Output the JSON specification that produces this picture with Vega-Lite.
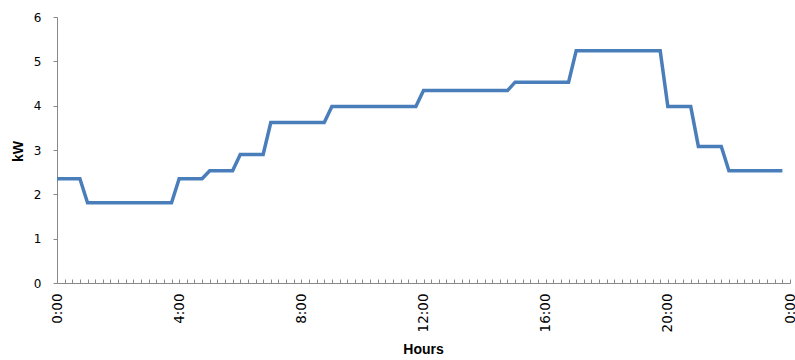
{
  "$schema": "https://vega.github.io/schema/vega-lite/v6.json",
  "width": 733,
  "height": 266,
  "autosize": {"type": "none"},
  "padding": {"left": 57, "top": 17, "right": 5, "bottom": 77},
  "background": "white",
  "config": {"view": {"stroke": null}},
  "data": {"values": [
    {"t": 0, "kW": 2.35}, {"t": 0.25, "kW": 2.35}, {"t": 0.5, "kW": 2.35}, {"t": 0.75, "kW": 2.35},
    {"t": 1, "kW": 1.81}, {"t": 1.25, "kW": 1.81}, {"t": 1.5, "kW": 1.81}, {"t": 1.75, "kW": 1.81},
    {"t": 2, "kW": 1.81}, {"t": 2.25, "kW": 1.81}, {"t": 2.5, "kW": 1.81}, {"t": 2.75, "kW": 1.81},
    {"t": 3, "kW": 1.81}, {"t": 3.25, "kW": 1.81}, {"t": 3.5, "kW": 1.81}, {"t": 3.75, "kW": 1.81},
    {"t": 4, "kW": 2.35}, {"t": 4.25, "kW": 2.35}, {"t": 4.5, "kW": 2.35}, {"t": 4.75, "kW": 2.35},
    {"t": 5, "kW": 2.53}, {"t": 5.25, "kW": 2.53}, {"t": 5.5, "kW": 2.53}, {"t": 5.75, "kW": 2.53},
    {"t": 6, "kW": 2.9}, {"t": 6.25, "kW": 2.9}, {"t": 6.5, "kW": 2.9}, {"t": 6.75, "kW": 2.9},
    {"t": 7, "kW": 3.62}, {"t": 7.25, "kW": 3.62}, {"t": 7.5, "kW": 3.62}, {"t": 7.75, "kW": 3.62},
    {"t": 8, "kW": 3.62}, {"t": 8.25, "kW": 3.62}, {"t": 8.5, "kW": 3.62}, {"t": 8.75, "kW": 3.62},
    {"t": 9, "kW": 3.98}, {"t": 9.25, "kW": 3.98}, {"t": 9.5, "kW": 3.98}, {"t": 9.75, "kW": 3.98},
    {"t": 10, "kW": 3.98}, {"t": 10.25, "kW": 3.98}, {"t": 10.5, "kW": 3.98}, {"t": 10.75, "kW": 3.98},
    {"t": 11, "kW": 3.98}, {"t": 11.25, "kW": 3.98}, {"t": 11.5, "kW": 3.98}, {"t": 11.75, "kW": 3.98},
    {"t": 12, "kW": 4.34}, {"t": 12.25, "kW": 4.34}, {"t": 12.5, "kW": 4.34}, {"t": 12.75, "kW": 4.34},
    {"t": 13, "kW": 4.34}, {"t": 13.25, "kW": 4.34}, {"t": 13.5, "kW": 4.34}, {"t": 13.75, "kW": 4.34},
    {"t": 14, "kW": 4.34}, {"t": 14.25, "kW": 4.34}, {"t": 14.5, "kW": 4.34}, {"t": 14.75, "kW": 4.34},
    {"t": 15, "kW": 4.53}, {"t": 15.25, "kW": 4.53}, {"t": 15.5, "kW": 4.53}, {"t": 15.75, "kW": 4.53},
    {"t": 16, "kW": 4.53}, {"t": 16.25, "kW": 4.53}, {"t": 16.5, "kW": 4.53}, {"t": 16.75, "kW": 4.53},
    {"t": 17, "kW": 5.24}, {"t": 17.25, "kW": 5.24}, {"t": 17.5, "kW": 5.24}, {"t": 17.75, "kW": 5.24},
    {"t": 18, "kW": 5.24}, {"t": 18.25, "kW": 5.24}, {"t": 18.5, "kW": 5.24}, {"t": 18.75, "kW": 5.24},
    {"t": 19, "kW": 5.24}, {"t": 19.25, "kW": 5.24}, {"t": 19.5, "kW": 5.24}, {"t": 19.75, "kW": 5.24},
    {"t": 20, "kW": 3.98}, {"t": 20.25, "kW": 3.98}, {"t": 20.5, "kW": 3.98}, {"t": 20.75, "kW": 3.98},
    {"t": 21, "kW": 3.08}, {"t": 21.25, "kW": 3.08}, {"t": 21.5, "kW": 3.08}, {"t": 21.75, "kW": 3.08},
    {"t": 22, "kW": 2.53}, {"t": 22.25, "kW": 2.53}, {"t": 22.5, "kW": 2.53}, {"t": 22.75, "kW": 2.53},
    {"t": 23, "kW": 2.53}, {"t": 23.25, "kW": 2.53}, {"t": 23.5, "kW": 2.53}, {"t": 23.75, "kW": 2.53}
  ]},
  "mark": {"type": "line", "color": "#4A7EBB", "strokeWidth": 3.5},
  "encoding": {
    "x": {
      "field": "t",
      "type": "quantitative",
      "scale": {"domain": [0, 24], "nice": false, "zero": false},
      "axis": {
        "title": "Hours",
        "titleFont": "Liberation Sans",
        "titleFontSize": 14,
        "titleFontWeight": "bold",
        "titleColor": "black",
        "titleX": 366,
        "titleY": 66,
        "titleAlign": "center",
        "titleBaseline": "middle",
        "grid": false,
        "domainColor": "#898989",
        "domainWidth": 1,
        "tickColor": "#898989",
        "tickWidth": 1,
        "tickSize": -4,
        "values": [0,0.25,0.5,0.75,1,1.25,1.5,1.75,2,2.25,2.5,2.75,3,3.25,3.5,3.75,4,4.25,4.5,4.75,5,5.25,5.5,5.75,6,6.25,6.5,6.75,7,7.25,7.5,7.75,8,8.25,8.5,8.75,9,9.25,9.5,9.75,10,10.25,10.5,10.75,11,11.25,11.5,11.75,12,12.25,12.5,12.75,13,13.25,13.5,13.75,14,14.25,14.5,14.75,15,15.25,15.5,15.75,16,16.25,16.5,16.75,17,17.25,17.5,17.75,18,18.25,18.5,18.75,19,19.25,19.5,19.75,20,20.25,20.5,20.75,21,21.25,21.5,21.75,22,22.25,22.5,22.75,23,23.25,23.5,23.75,24],
        "labelExpr": "datum.value % 4 === 0 ? (datum.value % 24) + ':00' : ''",
        "labelOverlap": false,
        "labelBound": false,
        "labelFlush": false,
        "labelAngle": 270,
        "labelAlign": "right",
        "labelBaseline": "middle",
        "labelFont": "DejaVu Sans",
        "labelFontSize": 13.5,
        "labelColor": "black",
        "labelPadding": 14
      }
    },
    "y": {
      "field": "kW",
      "type": "quantitative",
      "scale": {"domain": [0, 6], "nice": false},
      "axis": {
        "title": "kW",
        "titleFont": "Liberation Sans",
        "titleFontSize": 14,
        "titleFontWeight": "bold",
        "titleColor": "black",
        "titleAngle": 270,
        "titleX": -39,
        "titleY": 134,
        "titleAlign": "center",
        "titleBaseline": "middle",
        "grid": false,
        "values": [0, 1, 2, 3, 4, 5, 6],
        "domainColor": "#898989",
        "domainWidth": 1,
        "tickColor": "#898989",
        "tickWidth": 1,
        "tickSize": 4,
        "labelFont": "DejaVu Sans",
        "labelFontSize": 12,
        "labelColor": "black",
        "labelPadding": 12
      }
    }
  }
}
